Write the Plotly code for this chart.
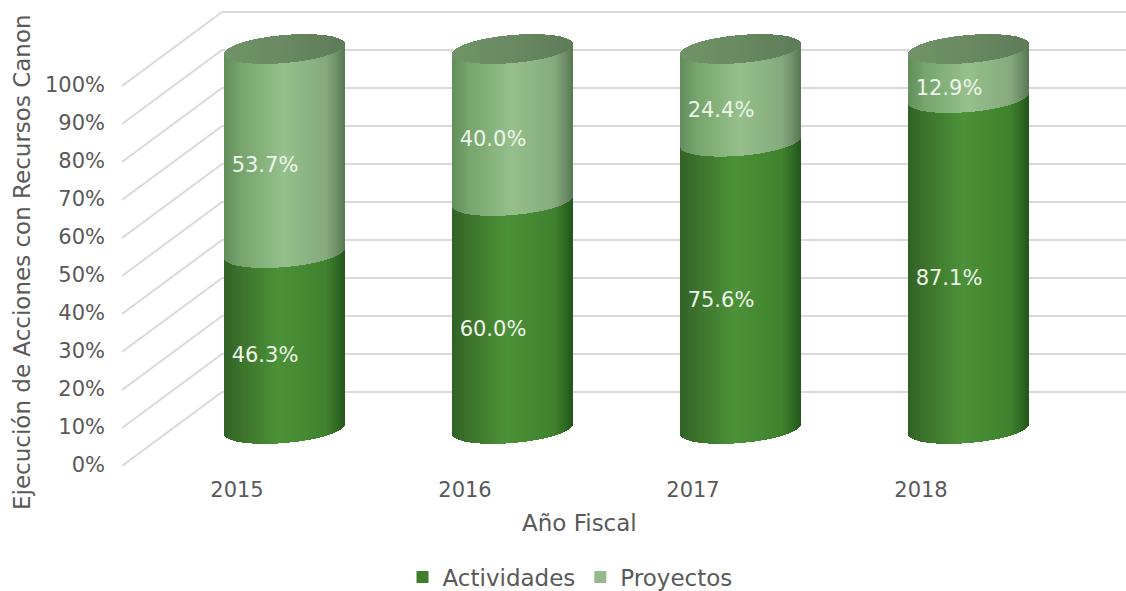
import numpy as np
import plotly.graph_objects as go

years = ["2015", "2016", "2017", "2018"]
actividades = [46.3, 60.0, 75.6, 87.1]
proyectos = [53.7, 40.0, 24.4, 12.9]
y_ticks = [0, 10, 20, 30, 40, 50, 60, 70, 80, 90, 100]

W, H = 1126, 591
L, R_, T, B = 122, 0, 5, 125
PX_Y = 3.8
PX_X = 228.0
xmin = (L - 285) / PX_X
xmax = (W - 285) / PX_X
ymax = (H - B - T) / PX_Y
RAD = 60 / PX_X
FLOOR = 37 / PX_Y
EB = 14 / PX_Y
TILT = 5 / PX_Y
BACK = 74 / PX_Y
BACK_X = (222 - 285) / PX_X
TICK_SHIFT = 1.0 / PX_Y
N = 120

FONT = "DejaVu Sans"
GREY = "#595959"


def px_x(p):
    return (p - L) / (W - L - R_)


def px_y(p):
    return (H - B - p) / (H - B - T)


def lerp_stops(stops, t):
    ts = [s[0] for s in stops]
    return "rgb(%d,%d,%d)" % tuple(np.interp(t, ts, [s[1][k] for s in stops]) for k in range(3))


LOW = [(0, (50, 98, 38)), (0.15, (60, 116, 44)), (0.45, (76, 146, 56)), (0.85, (64, 130, 46)), (0.95, (46, 104, 34)), (1, (36, 86, 28))]
UP = [(0, (98, 142, 90)), (0.15, (120, 166, 110)), (0.5, (150, 192, 140)), (0.85, (134, 170, 126)), (0.95, (108, 140, 102)), (1, (90, 122, 86))]
TOP = [(0, (112, 148, 104)), (0.5, (106, 138, 98)), (1, (94, 124, 88))]

u = (np.arange(N) + 0.5) / N * 2 - 1
s = np.sqrt(1 - u ** 2)
t = (u + 1) / 2
front = FLOOR + TILT * u - EB * s
width = 2 * RAD / N * 1.02

fig = go.Figure()

# walls, under the traces
grid = dict(type="line", xref="x", yref="y", layer="below", line=dict(color="#d9d9d9", width=2))
for v in y_ticks:
    fig.add_shape(x0=BACK_X, x1=xmax, y0=v + BACK, y1=v + BACK, **grid)
    fig.add_shape(x0=xmin, x1=BACK_X, y0=v, y1=v + BACK, **grid)

for name, vals, starts, stops in [
    ("Actividades", actividades, [0, 0, 0, 0], LOW),
    ("Proyectos", proyectos, actividades, UP),
]:
    xs, bases, hs, cols = [], [], [], []
    for i, (v, st) in enumerate(zip(vals, starts)):
        xs += list(i + RAD * u)
        bases += list(front + st)
        hs += [v] * N
        cols += [lerp_stops(stops, a) for a in t]
    fig.add_trace(go.Bar(x=xs, y=hs, base=bases, width=width, marker=dict(color=cols, line=dict(width=0)),
                         showlegend=False, hoverinfo="skip"))

xs, bases, hs, cols = [], [], [], []
for i, (a_, p_) in enumerate(zip(actividades, proyectos)):
    xs += list(i + RAD * u)
    bases += list(front + a_ + p_)
    hs += list(2 * EB * s)
    cols += [lerp_stops(TOP, a) for a in t]
fig.add_trace(go.Bar(x=xs, y=hs, base=bases, width=width, marker=dict(color=cols, line=dict(width=0)),
                     showlegend=False, hoverinfo="skip"))

# value labels
lab_x = [i - 20 / PX_X for i in range(len(years))]
base_y = FLOOR - EB - 2 / PX_Y
lab_y = [base_y + v / 2 for v in actividades] + [base_y + a_ + p_ / 2 for a_, p_ in zip(actividades, proyectos)]
lab_t = [f"{v:.1f}%" for v in actividades] + [f"{v:.1f}%" for v in proyectos]
fig.add_trace(go.Scatter(x=lab_x + lab_x, y=lab_y, text=lab_t, mode="text",
                         textfont=dict(family=FONT, size=21, color="#eef5ea"),
                         showlegend=False, hoverinfo="skip"))

# legend keys
for name, col in [("Actividades", "#3f7f2c"), ("Proyectos", "#94b98a")]:
    fig.add_trace(go.Scatter(x=[None], y=[None], mode="markers", name=name,
                             marker=dict(symbol="square", size=11, color=col)))

fig.update_layout(
    width=W, height=H, autosize=False,
    margin=dict(l=L, r=R_, t=T, b=B, autoexpand=False),
    paper_bgcolor="white", plot_bgcolor="white",
    barmode="overlay", bargap=0,
    font=dict(family=FONT, size=21, color=GREY),
    legend=dict(orientation="h", x=px_x(570), xanchor="center", y=px_y(577), yanchor="middle",
                itemsizing="constant", font=dict(size=23),
                itemwidth=30, bgcolor="rgba(0,0,0,0)"),
    annotations=[
        dict(text="Año Fiscal", xref="paper", yref="paper", x=px_x(579), y=px_y(523),
             showarrow=False, xanchor="center", yanchor="middle", font=dict(size=23, color=GREY)),
        dict(text="Ejecución de Acciones con Recursos Canon", textangle=-90, xref="paper", yref="paper",
             x=px_x(22), y=px_y(262), showarrow=False, xanchor="center", yanchor="middle",
             font=dict(size=23, color=GREY)),
    ],
)
fig.update_xaxes(range=[xmin, xmax], showgrid=False, zeroline=False, showline=False, ticks="",
                 tickvals=[i - 48 / PX_X for i in range(len(years))], ticktext=years, ticklabelstandoff=9,
                 tickfont=dict(size=21, color=GREY))
fig.update_yaxes(range=[0, ymax], showgrid=False, zeroline=False, showline=False, ticks="",
                 tickvals=[v + TICK_SHIFT for v in y_ticks], ticktext=[f"{v}%" for v in y_ticks],
                 ticklabelstandoff=16, tickfont=dict(size=21, color=GREY))
fig.write_html("out.html", post_script="document.body.style.margin='0';",
               config=dict(displayModeBar=False))
